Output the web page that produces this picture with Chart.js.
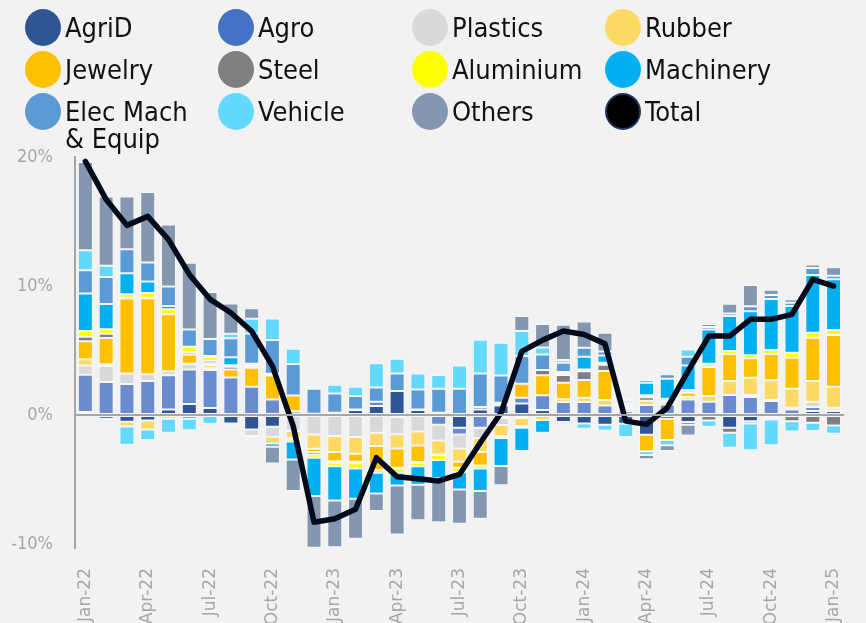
<!DOCTYPE html>
<html>
<head>
<meta charset="utf-8">
<script src="https://cdn.jsdelivr.net/npm/chart.js@4.4.1/dist/chart.umd.min.js"></script>
<style>
  body { margin: 0; background: #F2F2F2; }
  #wrap { position: relative; width: 866px; height: 623px; overflow: hidden; }
  #chart { position: absolute; left: 0; top: 0; }
  #legend { position: absolute; left: 0; top: 0; width: 866px; height: 150px;
    font-family: "DejaVu Sans Condensed", "DejaVu Sans", sans-serif; font-stretch: condensed; }
  .item { position: absolute; display: flex; align-items: flex-start; font-size: 27px; line-height: 27px; color: #111; }
  .dot { width: 36px; height: 37px; border-radius: 50%; margin-right: 4px; box-sizing: border-box; flex: none; }
  .item span { margin-top: 5px; max-width: 135px; white-space: normal; }
</style>
</head>
<body>
<div id="wrap">
  <canvas id="chart" width="866" height="623"></canvas>
  <div id="legend"></div>
</div>
<script>
const months = ["Jan-22","Feb-22","Mar-22","Apr-22","May-22","Jun-22","Jul-22","Aug-22","Sep-22","Oct-22","Nov-22","Dec-22",
  "Jan-23","Feb-23","Mar-23","Apr-23","May-23","Jun-23","Jul-23","Aug-23","Sep-23","Oct-23","Nov-23","Dec-23",
  "Jan-24","Feb-24","Mar-24","Apr-24","May-24","Jun-24","Jul-24","Aug-24","Sep-24","Oct-24","Nov-24","Dec-24","Jan-25"];

const yTicks = [-10, 0, 10, 20];

// contributions, percentage points
const agriD = [0.23,-0.28,-0.52,-0.41,0.44,0.85,0.54,-0.65,-1.11,-0.9,0.1,0.05,
  0.1,0.39,0.7,1.86,0.39,0.18,-0.98,0.44,0.75,0.9,0.39,-0.54,
  -0.65,-0.75,-0.67,-1.52,-0.28,-0.54,0,-0.98,-0.47,-0.21,-0.08,0.31,0.31];
const agro = [2.9,2.56,2.4,2.64,2.64,2.69,2.95,2.92,2.2,1.21,0.2,0.05,
  0.08,0.05,0.34,-0.15,0.05,-0.75,-0.52,-0.98,-0.23,0.44,1.14,1.01,
  1.01,0.75,0.3,0.78,0.83,1.21,1.03,1.55,1.4,1.09,0.44,0.31,0.05];
const plastics = [0.72,1.24,0.83,0.52,0.31,0.39,0.13,-0.1,-0.52,-0.78,-1.24,-1.5,
  -1.63,-1.7,-1.37,-1.34,-1.27,-1.21,-1.09,-0.8,-0.54,-0.23,-0.08,0,
  0,0,0,0,0,0,0,0,0.15,0.08,0.13,0.39,0.21];
const rubber = [0.47,0.13,-0.36,-0.7,-0.28,0.05,0.26,-0.15,-0.08,-0.52,-0.52,-1.11,
  -1.24,-1.29,-1.03,-1.09,-1.09,-1.09,-1.03,-1.09,-0.85,-0.62,-0.31,0.21,
  0.34,0.41,0.18,0.34,0.2,0.21,0.44,1.09,1.34,1.52,1.47,1.63,1.63];
const jewelry = [1.4,2.04,5.81,5.89,4.42,0.72,0.13,0.62,1.47,1.86,1.21,-0.26,
  -0.7,-0.62,-1.86,-1.5,-1.27,-0.05,-0.47,-1.03,0.1,1.09,1.55,1.29,
  1.37,2.25,0.13,-1.29,-1.65,0.31,2.25,2.09,1.52,2.04,2.4,3.36,4.01];
const steel = [0.36,0.34,0.05,0.05,0.03,0.16,0.2,0.2,0.13,0.13,-0.1,-0.18,
  -0.13,-0.13,0,-0.08,-0.08,0,0,0.18,0.1,0,0.41,0.59,
  0.67,0.49,0.15,0.26,0.1,-0.21,-0.41,-0.39,-0.18,-0.13,-0.39,-0.59,-0.8];
const aluminium = [0.44,0.34,0.28,0.36,0.36,0.44,0.31,0.13,0.1,0,-0.18,-0.26,
  -0.26,-0.39,-0.21,-0.31,-0.26,-0.39,-0.34,-0.23,-0.15,-0.13,0,0.08,
  0.15,0.15,0.13,0.15,0.13,0.21,0.26,0.23,0.23,0.31,0.39,0.39,0.39];
const machinery = [2.9,1.96,1.63,0.9,0.26,-0.28,0.05,0.62,0.08,-0.26,-1.4,-2.97,
  -2.66,-2.35,-1.6,-0.98,-1.42,-1.4,-1.34,-1.76,-2.17,-1.81,-0.98,0.15,
  0.98,0.57,0.1,0.98,1.55,1.91,2.66,2.71,3.41,3.95,3.62,4.47,3.93];
const elecMach = [1.8,2.09,1.86,1.47,1.5,1.34,1.32,1.47,2.35,2.61,2.45,1.94,
  1.5,1.03,1.09,1.37,1.55,1.86,2.04,2.61,2.12,2.14,1.21,0.72,
  0.7,0.3,0.18,0.2,0.36,0.67,0.18,0.21,0.39,0.31,0.26,0.54,0.26];
const vehicle = [1.55,0.88,-1.42,-0.83,-1.09,-0.9,-0.67,0.34,1.14,1.68,1.19,0.08,
  0.67,0.72,1.89,1.14,1.24,1.06,1.81,2.61,2.53,1.94,0.54,0.21,
  -0.41,-0.44,-1.03,-0.28,-0.41,0.57,-0.49,-1.16,-2.07,-1.99,-0.8,-0.65,-0.65];
const others = [6.85,5.35,4.08,5.45,4.81,5.17,3.64,2.35,0.8,-1.29,-2.45,-4.0,
  -3.62,-3.1,-1.37,-3.8,-2.76,-3.41,-2.66,-2.14,-1.5,1.16,1.81,2.74,
  2.03,1.47,0.1,-0.34,-0.44,-0.83,0.23,0.75,1.65,0.41,0.26,0.26,0.67];
const total = [19.66,16.7,14.7,15.4,13.6,10.9,8.97,7.93,6.5,3.8,-0.85,-8.3,
  -8.04,-7.3,-3.3,-4.78,-4.94,-5.1,-4.6,-2.14,0.18,4.94,5.81,6.51,
  6.25,5.53,-0.47,-0.72,0.57,3.41,6.12,6.12,7.42,7.42,7.8,10.52,10.0];

const names = ["AgriD","Agro","Plastics","Rubber","Jewelry","Steel","Aluminium","Machinery","Elec Mach & Equip","Vehicle","Others"];
const series = [agriD, agro, plastics, rubber, jewelry, steel, aluminium, machinery, elecMach, vehicle, others];
const colors = ["#2F5597","#6A8CCF","#D9D9D9","#FFD966","#FFC000","#7F7F7F","#FFFF00","#00B0F0","#5B9BD5","#63D9FF","#8497B0"];
const legendColors = ["#2F5597","#4472C4","#D9D9D9","#FFD966","#FFC000","#7F7F7F","#FFFF00","#00B0F0","#5B9BD5","#63D9FF","#8497B0"];

const datasets = series.map((d, i) => ({
  type: "bar",
  label: names[i],
  data: d,
  backgroundColor: colors[i],
  borderColor: "rgba(255,255,255,0.45)",
  borderWidth: 1,
  borderSkipped: false,
  stack: "bars",
  order: 1,
}));
datasets.push({
  type: "line",
  label: "Total",
  data: total,
  borderColor: "#030A1A",
  borderWidth: 5.5,
  pointRadius: 0,
  tension: 0,
  fill: false,
  borderJoinStyle: "round",
  borderCapStyle: "round",
  stack: "total",
  order: 0,
});

// legend, 4 columns
const legend = document.getElementById("legend");
const colX = [25, 218, 412, 605];
const rowY = [9, 51, 93];
const legendItems = names.map((n, i) => ({ name: n, color: legendColors[i] }));
legendItems.push({ name: "Total", color: "#000", border: "#1F3864" });
legendItems.forEach((it, i) => {
  const el = document.createElement("div");
  el.className = "item";
  el.style.left = colX[i % 4] + "px";
  el.style.top = rowY[Math.floor(i / 4)] + "px";
  const dot = document.createElement("div");
  dot.className = "dot";
  dot.style.background = it.color;
  if (it.border) dot.style.border = "2px solid " + it.border;
  const txt = document.createElement("span");
  txt.textContent = it.name;
  el.appendChild(dot);
  el.appendChild(txt);
  legend.appendChild(el);
});

const ctx = document.getElementById("chart").getContext("2d");
const myChart = new Chart(ctx, {
  type: "bar",
  data: { labels: months, datasets: datasets },
  options: {
    responsive: false,
    animation: false,
    layout: { padding: { top: 157, right: 3, left: 0, bottom: 0 } },
    plugins: { legend: { display: false }, tooltip: { enabled: false } },
    scales: {
      x: {
        stacked: true,
        grid: { display: false },
        border: { display: false },
        categoryPercentage: 1,
        barPercentage: 0.66,
        ticks: {
          autoSkip: false,
          minRotation: 90,
          maxRotation: 90,
          padding: 12,
          color: "#A6A6A6",
          font: { family: "DejaVu Sans", size: 17 },
          callback: function (v, i) { return i % 3 === 0 ? months[i] : ""; },
        },
        afterFit: (s) => { s.height = 75; },
      },
      y: {
        stacked: true,
        min: -10.3,
        max: 20,
        afterBuildTicks: (s) => { s.ticks = yTicks.map((v) => ({ value: v })); },
        afterFit: (s) => { s.width = 75; },
        grid: {
          drawTicks: false,
          z: 1,
          lineWidth: 2,
          color: (c) => (c.tick && c.tick.value === 0 ? "#A6A6A6" : "transparent"),
        },
        border: { display: true, color: "#A6A6A6", width: 2, z: 1 },
        ticks: {
          padding: 22,
          color: "#A6A6A6",
          font: { family: "DejaVu Sans Condensed", size: 18 },
          callback: (v) => v + "%",
        },
      },
    },
  },
});
</script>
</body>
</html>
